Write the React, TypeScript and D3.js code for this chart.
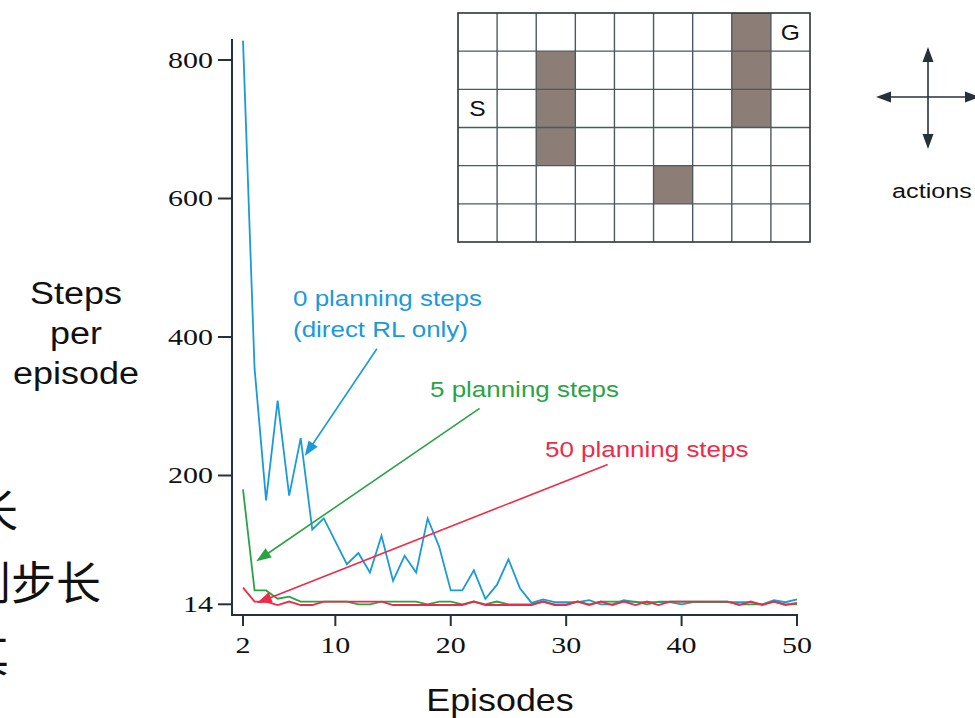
import React from "react";
import * as d3 from "d3";

// Episodes 2..50
const episodes: number[] = d3.range(2, 51);

const stepsNoPlanning: number[] = [
  828, 355, 164, 308, 171, 254, 122, 138, 105, 72,
  88, 60, 113, 48, 84, 60, 138, 97, 34, 34,
  63, 22, 42, 79, 37, 16, 21, 17, 17, 17,
  20, 14, 14, 20, 17, 17, 17, 17, 14, 17,
  17, 17, 17, 17, 17, 14, 20, 17, 21,
];

const stepsFivePlanning: number[] = [
  180, 34, 34, 22, 25, 18, 18, 18, 18, 18,
  14, 14, 18, 18, 18, 18, 14, 18, 18, 14,
  18, 14, 18, 14, 14, 14, 18, 14, 14, 18,
  14, 18, 18, 18, 18, 14, 18, 18, 18, 18,
  18, 18, 18, 14, 14, 14, 18, 14, 14,
];

const stepsFiftyPlanning: number[] = [
  38, 18, 18, 13, 18, 13, 13, 18, 18, 18,
  18, 18, 18, 13, 13, 13, 13, 13, 13, 13,
  18, 13, 13, 13, 13, 13, 18, 13, 13, 18,
  13, 18, 13, 18, 13, 18, 13, 18, 18, 18,
  18, 18, 18, 13, 18, 13, 18, 13, 16,
];

const xTicks: number[] = [2, 10, 20, 30, 40, 50];
const yTicks: number[] = [14, 200, 400, 600, 800];

const seriesNames: string[] = ["0 planning steps", "5 planning steps", "50 planning steps"];
const seriesColors: string[] = ["#1b9ad8", "#2aa345", "#ee2a48"];

// Maze: 9 x 6 cells, blocked cells as [col, row]
const mazeCols = 9;
const mazeRows = 6;
const blockedCells: [number, number][] = [
  [2, 1], [2, 2], [2, 3],
  [7, 0], [7, 1], [7, 2],
  [5, 4],
];

// Fragments of slide text along the left edge
const sideLines: string[] = ["长", "规划步长", "其"];

const SANS = "'Liberation Sans', Arial, Helvetica, sans-serif";
const SERIF = "'Liberation Serif', 'Times New Roman', serif";
const CJK = "'Noto Sans CJK SC', sans-serif";
const AXIS = "#263238";

type STextProps = {
  x: number;
  y: number;
  size: number;
  sx?: number;
  anchor?: "start" | "middle" | "end";
  fill?: string;
  family?: string;
  children: React.ReactNode;
};

function SText({ x, y, size, sx = 1, anchor = "start", fill = "#111", family = SANS, children }: STextProps) {
  return (
    <text
      transform={`translate(${x},${y}) scale(${sx},1)`}
      fontSize={size}
      fontFamily={family}
      textAnchor={anchor}
      fill={fill}
    >
      {children}
    </text>
  );
}

function Arrow({ x1, y1, x2, y2, color }: { x1: number; y1: number; x2: number; y2: number; color: string }) {
  const len = Math.hypot(x2 - x1, y2 - y1);
  const ux = (x2 - x1) / len;
  const uy = (y2 - y1) / len;
  const headLen = 15;
  const headHalf = 5.5;
  const bx = x2 - ux * headLen;
  const by = y2 - uy * headLen;
  const pts = [
    [x2, y2],
    [bx - uy * headHalf, by + ux * headHalf],
    [bx + uy * headHalf, by - ux * headHalf],
  ];
  return (
    <g>
      <line x1={x1} y1={y1} x2={bx + ux * 2} y2={by + uy * 2} stroke={color} strokeWidth={1.6} />
      <polygon points={pts.map((p) => p.join(",")).join(" ")} fill={color} />
    </g>
  );
}

export default function App() {
  const x = d3.scaleLinear().domain([2, 50]).range([243, 797]);
  const y = d3.scaleLinear().domain([14, 800]).range([604.3, 60]);

  const line = d3
    .line<number>()
    .x((_, i) => x(episodes[i]))
    .y((v) => y(v));

  const series = [stepsNoPlanning, stepsFivePlanning, stepsFiftyPlanning];

  // Annotation arrows in data coordinates: [fromEpisode, fromSteps, toEpisode, toSteps]
  const arrows: [number, number, number, number][] = [
    [13.6, 383, 7.35, 228],
    [22.5, 297, 3.15, 76],
    [33.6, 216, 3.2, 16],
  ];

  const axisLeft = 232;
  const axisBottom = 615;

  const mx0 = 458;
  const my0 = 13;
  const mw = 352;
  const mh = 229;
  const mazeX = d3.scaleLinear().domain([0, mazeCols]).range([mx0, mx0 + mw]);
  const mazeY = d3.scaleLinear().domain([0, mazeRows]).range([my0, my0 + mh]);

  const sideRight = [18, 101, 9];
  const sideBase = [528, 600, 672];

  return (
    <svg
      width={975}
      height={718}
      viewBox="0 0 975 718"
      style={{ position: "absolute", left: 0, top: 0, background: "#fff" }}
    >
      <rect x={0} y={0} width={975} height={718} fill="#fff" />

      {/* Slide text cut by the left edge */}
      {sideLines.map((s, i) => (
        <text
          key={`side${i}`}
          x={sideRight[i]}
          y={sideBase[i]}
          fontSize={45}
          fontFamily={CJK}
          textAnchor="end"
          fill="#111111"
        >
          {s}
        </text>
      ))}

      {/* Y axis label */}
      <SText x={76} y={304} size={31} sx={1.16} anchor="middle">Steps</SText>
      <SText x={76} y={344} size={31} sx={1.16} anchor="middle">per</SText>
      <SText x={76} y={384} size={31} sx={1.16} anchor="middle">episode</SText>

      {/* X axis label */}
      <SText x={500} y={711} size={32} sx={1.12} anchor="middle">Episodes</SText>

      {/* Axes */}
      <line x1={axisLeft} y1={39} x2={axisLeft} y2={axisBottom + 1} stroke={AXIS} strokeWidth={2} />
      <line x1={axisLeft - 1} y1={axisBottom} x2={x(50) + 1} y2={axisBottom} stroke={AXIS} strokeWidth={2} />
      {yTicks.map((t) => (
        <g key={`y${t}`}>
          <line x1={axisLeft - 14} y1={y(t)} x2={axisLeft} y2={y(t)} stroke={AXIS} strokeWidth={2} />
          <SText x={axisLeft - 19} y={y(t) + 8} size={24} sx={1.25} anchor="end" family={SERIF}>
            {t}
          </SText>
        </g>
      ))}
      {xTicks.map((t) => (
        <g key={`x${t}`}>
          <line x1={x(t)} y1={axisBottom} x2={x(t)} y2={axisBottom + 11} stroke={AXIS} strokeWidth={2} />
          <SText x={x(t)} y={653} size={24} sx={1.25} anchor="middle" family={SERIF}>
            {t}
          </SText>
        </g>
      ))}

      {/* Learning curves */}
      {series.map((s, i) => (
        <path
          key={seriesNames[i]}
          d={line(s) ?? ""}
          fill="none"
          stroke={seriesColors[i]}
          strokeWidth={1.8}
          strokeLinejoin="miter"
        />
      ))}

      {/* Annotations */}
      <SText x={293} y={306} size={22} sx={1.18} fill={seriesColors[0]}>{seriesNames[0]}</SText>
      <SText x={293} y={337} size={22} sx={1.18} fill={seriesColors[0]}>(direct RL only)</SText>
      <SText x={430} y={397} size={22} sx={1.18} fill={seriesColors[1]}>{seriesNames[1]}</SText>
      <SText x={545} y={457} size={22} sx={1.18} fill={seriesColors[2]}>{seriesNames[2]}</SText>
      {arrows.map((a, i) => (
        <Arrow
          key={`a${i}`}
          x1={x(a[0])}
          y1={y(a[1])}
          x2={x(a[2])}
          y2={y(a[3])}
          color={seriesColors[i]}
        />
      ))}

      {/* Maze */}
      <g>
        <rect x={mx0} y={my0} width={mw} height={mh} fill="#fff" />
        {blockedCells.map(([c, r]) => (
          <rect
            key={`b${c}-${r}`}
            x={mazeX(c)}
            y={mazeY(r)}
            width={mazeX(c + 1) - mazeX(c)}
            height={mazeY(r + 1) - mazeY(r)}
            fill="#8c7d77"
          />
        ))}
        {d3.range(1, mazeCols).map((c) => (
          <line key={`vc${c}`} x1={mazeX(c)} y1={my0} x2={mazeX(c)} y2={my0 + mh} stroke="#4e595e" strokeWidth={1.4} />
        ))}
        {d3.range(1, mazeRows).map((r) => (
          <line key={`hr${r}`} x1={mx0} y1={mazeY(r)} x2={mx0 + mw} y2={mazeY(r)} stroke="#4e595e" strokeWidth={1.4} />
        ))}
        <rect x={mx0} y={my0} width={mw} height={mh} fill="none" stroke="#2d3538" strokeWidth={1.6} />
        <SText x={(mazeX(0) + mazeX(1)) / 2} y={mazeY(2.5) + 8} size={22} sx={1.12} anchor="middle">S</SText>
        <SText x={(mazeX(8) + mazeX(9)) / 2} y={mazeY(0.5) + 8} size={22} sx={1.12} anchor="middle">G</SText>
      </g>

      {/* Action arrows */}
      <Arrow x1={928} y1={97} x2={928} y2={47} color="#263238" />
      <Arrow x1={928} y1={97} x2={928} y2={149} color="#263238" />
      <Arrow x1={928} y1={97} x2={876} y2={97} color="#263238" />
      <Arrow x1={928} y1={97} x2={980} y2={97} color="#263238" />
      <SText x={932} y={198} size={21} sx={1.2} anchor="middle">actions</SText>
    </svg>
  );
}
